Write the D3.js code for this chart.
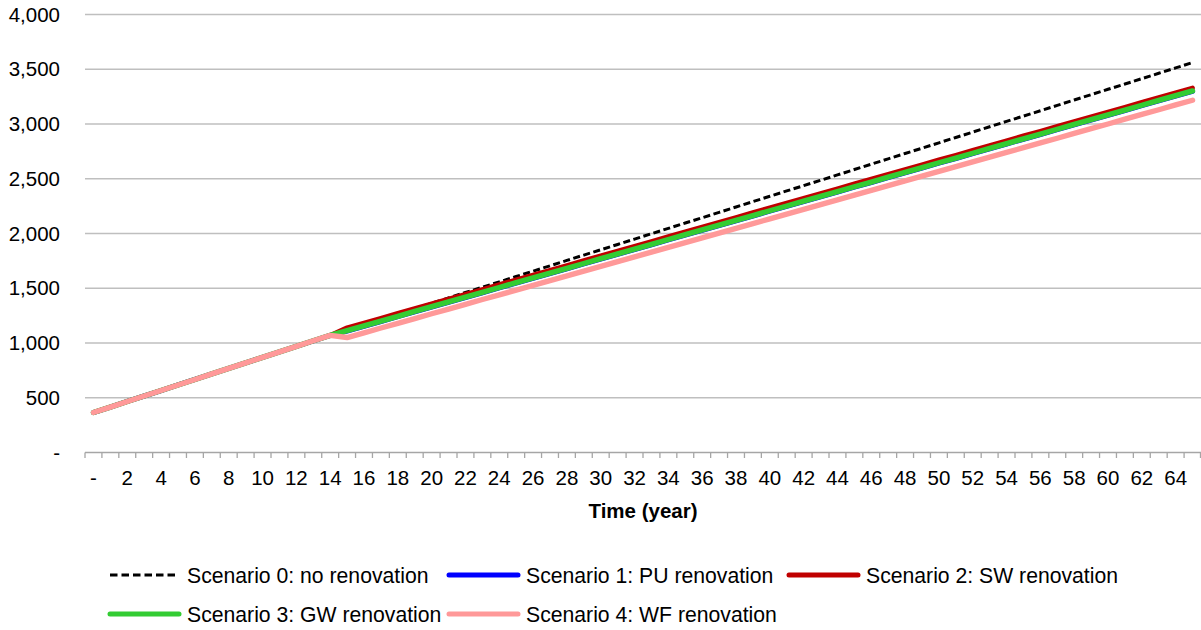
<!DOCTYPE html>
<html>
<head>
<meta charset="utf-8">
<script src="https://cdn.jsdelivr.net/npm/d3@7"></script>
<style>
  html, body { margin: 0; padding: 0; background: #fff; }
  svg { display: block; font-family: "Liberation Sans", Arial, sans-serif; }
</style>
</head>
<body>
<svg id="chart" width="1201" height="630"></svg>
<script>
// ---------- data ----------
const years = d3.range(0, 66);
const yTicks = [0, 500, 1000, 1500, 2000, 2500, 3000, 3500, 4000];
const xTickLabels = d3.range(0, 66, 2);

// common values for years 0..14 (before renovation)
const before = [365, 415, 466, 516, 566, 617, 667, 718, 768, 818, 869, 919, 969, 1020, 1070];

const s0After = [1119, 1168, 1217, 1265, 1314, 1363, 1412, 1461, 1510, 1558, 1607, 1656, 1705, 1754, 1803, 1851, 1900, 1949, 1998, 2047, 2096, 2144, 2193, 2242, 2291, 2340, 2389, 2437, 2486, 2535, 2584, 2633, 2682, 2731, 2779, 2828, 2877, 2926, 2975, 3024, 3072, 3121, 3170, 3219, 3268, 3317, 3365, 3414, 3463, 3512, 3561];
const s1After = [1109, 1153, 1196, 1240, 1284, 1328, 1372, 1415, 1459, 1503, 1547, 1591, 1634, 1678, 1722, 1766, 1810, 1853, 1897, 1941, 1985, 2029, 2072, 2116, 2160, 2204, 2247, 2291, 2335, 2379, 2423, 2466, 2510, 2554, 2598, 2642, 2685, 2729, 2773, 2817, 2861, 2904, 2948, 2992, 3036, 3080, 3123, 3167, 3211, 3255, 3298];
const s2After = [1140, 1184, 1227, 1271, 1315, 1359, 1403, 1446, 1490, 1534, 1578, 1622, 1665, 1709, 1753, 1797, 1841, 1884, 1928, 1972, 2016, 2060, 2103, 2147, 2191, 2235, 2278, 2322, 2366, 2410, 2454, 2497, 2541, 2585, 2629, 2673, 2716, 2760, 2804, 2848, 2892, 2935, 2979, 3023, 3067, 3111, 3154, 3198, 3242, 3286, 3329];
const s3After = [1113, 1157, 1200, 1244, 1288, 1332, 1376, 1419, 1463, 1507, 1551, 1595, 1638, 1682, 1726, 1770, 1814, 1857, 1901, 1945, 1989, 2033, 2076, 2120, 2164, 2208, 2251, 2295, 2339, 2383, 2427, 2470, 2514, 2558, 2602, 2646, 2689, 2733, 2777, 2821, 2865, 2908, 2952, 2996, 3040, 3084, 3127, 3171, 3215, 3259, 3302];
const s4After = [1050, 1093, 1137, 1180, 1223, 1267, 1310, 1353, 1397, 1440, 1483, 1527, 1570, 1613, 1657, 1700, 1744, 1787, 1830, 1874, 1917, 1960, 2004, 2047, 2090, 2134, 2177, 2220, 2264, 2307, 2350, 2394, 2437, 2480, 2524, 2567, 2610, 2654, 2697, 2740, 2784, 2827, 2870, 2914, 2957, 3000, 3044, 3087, 3130, 3174, 3217];

const seriesNames = [
  "Scenario 0: no renovation",
  "Scenario 1: PU renovation",
  "Scenario 2: SW renovation",
  "Scenario 3: GW renovation",
  "Scenario 4: WF renovation"
];
const seriesValues = [
  before.concat(s0After),
  before.concat(s1After),
  before.concat(s2After),
  before.concat(s3After),
  before.concat(s4After)
];
const styles = [
  { color: "#000000", width: 3,   dash: "7,3.5" },
  { color: "#0000FF", width: 5,   dash: null },
  { color: "#C00000", width: 4.6, dash: null },
  { color: "#33CC33", width: 5.4, dash: null },
  { color: "#FF9999", width: 5.4, dash: null }
];

// ---------- layout ----------
const svg = d3.select("#chart");
const plotLeft = 85, plotRight = 1201, plotTop = 14.5, plotBottom = 452.5;
const fontSize = 20.5;

const x = d3.scaleBand().domain(years).range([plotLeft, plotRight]).paddingInner(0).paddingOuter(0);
const y = d3.scaleLinear().domain([0, 4000]).range([plotBottom, plotTop]);
const cx = d => x(d) + x.bandwidth() / 2;

// gridlines
svg.append("g").selectAll("line")
  .data(yTicks.filter(d => d > 0))
  .join("line")
  .attr("x1", plotLeft).attr("x2", plotRight)
  .attr("y1", d => y(d)).attr("y2", d => y(d))
  .attr("stroke", "#BFBFBF").attr("stroke-width", 1.5);

// y axis labels
const yAxis = d3.axisLeft(y).tickValues(yTicks).tickSize(0).tickPadding(0)
  .tickFormat(d => d === 0 ? "-" : d3.format(",")(d));
const gy = svg.append("g").attr("transform", `translate(${plotLeft - 25},0)`).call(yAxis);
gy.select(".domain").remove();
gy.selectAll("text").attr("font-size", fontSize).attr("fill", "#000")
  .attr("font-family", "'Liberation Sans', Arial, sans-serif");

// x axis line and tick marks (between categories)
svg.append("line")
  .attr("x1", plotLeft).attr("x2", plotRight).attr("y1", plotBottom).attr("y2", plotBottom)
  .attr("stroke", "#A6A6A6").attr("stroke-width", 1.5);
svg.append("g").selectAll("line")
  .data(years.concat([years.length]))
  .join("line")
  .attr("x1", d => d < years.length ? x(d) : plotRight - 0.5)
  .attr("x2", d => d < years.length ? x(d) : plotRight - 0.5)
  .attr("y1", plotBottom).attr("y2", plotBottom + 5.5)
  .attr("stroke", "#A6A6A6").attr("stroke-width", 1.3);

// x axis labels
const xAxis = d3.axisBottom(x).tickValues(xTickLabels).tickSize(0).tickPadding(0)
  .tickFormat(d => d === 0 ? "-" : d);
const gx = svg.append("g").attr("transform", `translate(0,${plotBottom + 17.5})`).call(xAxis);
gx.select(".domain").remove();
gx.selectAll("text").attr("font-size", fontSize).attr("fill", "#000")
  .attr("font-family", "'Liberation Sans', Arial, sans-serif");

// axis title
svg.append("text")
  .attr("x", 643).attr("y", 518)
  .attr("text-anchor", "middle")
  .attr("font-size", fontSize).attr("font-weight", "bold")
  .text("Time (year)");

// lines
const line = d3.line().x((d, i) => cx(years[i])).y(d => y(d));
const gl = svg.append("g");
seriesValues.forEach((vals, i) => {
  gl.append("path")
    .datum(vals)
    .attr("d", line)
    .attr("fill", "none")
    .attr("stroke", styles[i].color)
    .attr("stroke-width", styles[i].width)
    .attr("stroke-linejoin", "round")
    .attr("stroke-linecap", styles[i].dash ? "butt" : "round")
    .attr("stroke-dasharray", styles[i].dash);
});

// legend
const legendPos = [
  { x: 110, y: 575 }, { x: 449, y: 575 }, { x: 789, y: 575 },
  { x: 110, y: 614 }, { x: 449, y: 614 }
];
const lg = svg.append("g");
seriesNames.forEach((name, i) => {
  const p = legendPos[i];
  lg.append("line")
    .attr("x1", p.x).attr("x2", p.x + 69)
    .attr("y1", p.y).attr("y2", p.y)
    .attr("stroke", styles[i].color)
    .attr("stroke-width", styles[i].dash ? 3 : 5)
    .attr("stroke-linecap", styles[i].dash ? "butt" : "round")
    .attr("stroke-dasharray", styles[i].dash ? "7.5,4" : null);
  lg.append("text")
    .attr("x", p.x + 77).attr("y", p.y + 7.5)
    .attr("font-size", fontSize + 0.7)
    .attr("fill", "#000")
    .text(name);
});
</script>
</body>
</html>
